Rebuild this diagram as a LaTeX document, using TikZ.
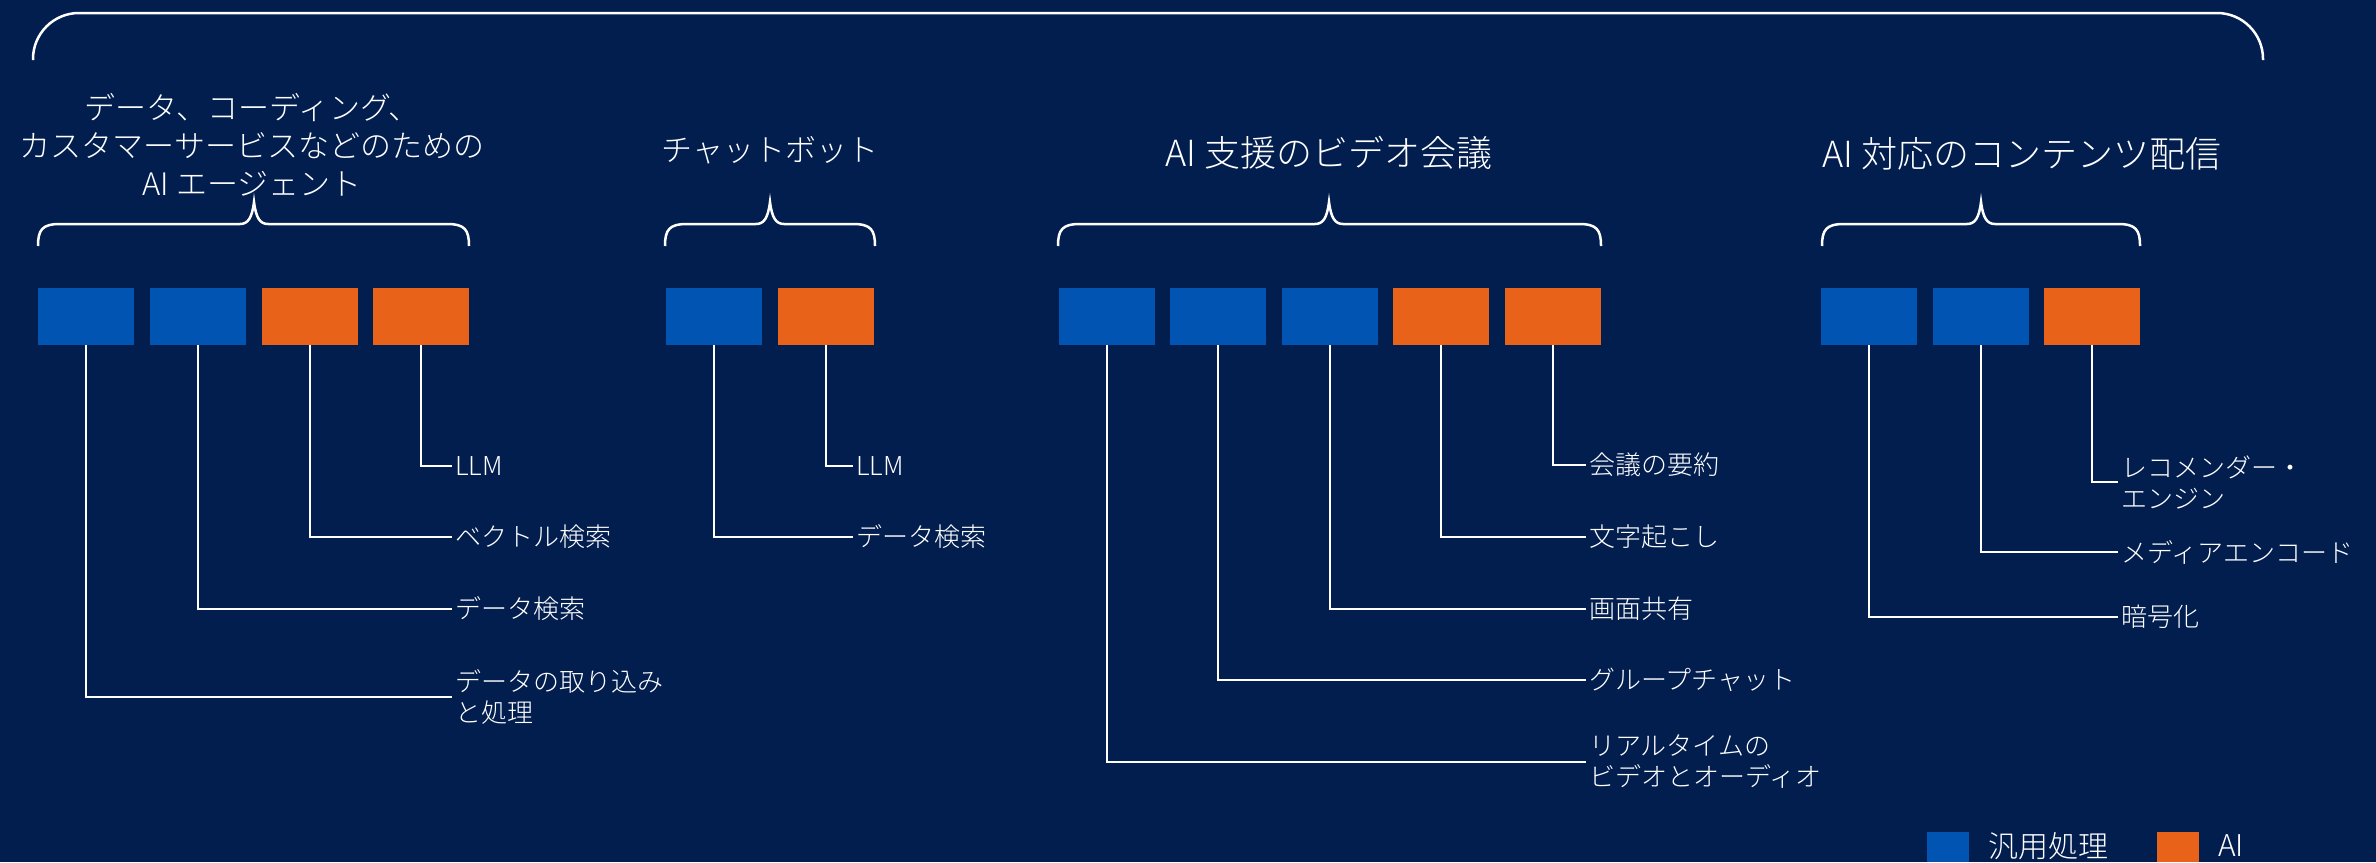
\documentclass[tikz,border=0pt]{standalone}
\usepackage{fontspec}
\IfFontExistsTF{Noto Sans CJK JP Light}{\setmainfont{Noto Sans CJK JP Light}}{\setmainfont{Noto Sans CJK JP}}
\definecolor{bg}{HTML}{021E4F}
\definecolor{bblue}{HTML}{0254B3}
\definecolor{borange}{HTML}{E86219}
\tikzset{
  boxb/.style={fill=bblue, minimum width=96pt, minimum height=57pt, inner sep=0pt},
  boxo/.style={boxb, fill=borange},
  conn/.style={draw=white, line width=2.5pt},
  lbl/.style={anchor=west, inner sep=0pt, inner xsep=3pt, text=white, font=\fontsize{26}{31}\selectfont, align=left},
  ttl/.style={text=white, inner sep=0pt, align=center},
  brc/.style={draw=white, line width=2.5pt},
  leg/.style={anchor=west, inner sep=0pt, text=white, font=\fontsize{30}{36}\selectfont},
}
\newcommand{\grpbrace}[3]{%
  \draw[brc] (#1,246) .. controls (#1,230) and (#1+4,224) .. (#1+22,224) -- (#2-14,224)
    .. controls (#2-6,224) and (#2-2,218) .. (#2,202)
    .. controls (#2+2,218) and (#2+6,224) .. (#2+14,224) -- (#3-22,224)
    .. controls (#3-4,224) and (#3,230) .. (#3,246);}
\begin{document}
\begin{tikzpicture}[x=1pt,y=-1pt]
\useasboundingbox (0,0) rectangle (2376,862);
\fill[bg] (0,0) rectangle (2376,862);

% top bracket
\draw[brc, rounded corners=46pt] (33,60) -- (33,13) -- (2263,13) -- (2263,60);

% titles
\node[ttl, font=\fontsize{31}{38}\selectfont] (t1) at (252,145) {データ、コーディング、\\カスタマーサービスなどのための\\AI エージェント};
\node[ttl, font=\fontsize{31}{38}\selectfont] (t2) at (770,150) {チャットボット};
\node[ttl, font=\fontsize{36}{42}\selectfont] (t3) at (1329,153) {AI 支援のビデオ会議};
\node[ttl, font=\fontsize{36}{42}\selectfont] (t4) at (2022,154) {AI 対応のコンテンツ配信};

% braces
\grpbrace{38}{254}{469}
\grpbrace{665}{770}{875}
\grpbrace{1058}{1329}{1601}
\grpbrace{1822}{1981}{2140}

% group 1
\node[boxb] (g1b1) at (86,316.5) {};
\node[boxb] (g1b2) at (198,316.5) {};
\node[boxo] (g1b3) at (310,316.5) {};
\node[boxo] (g1b4) at (421,316.5) {};
\node[lbl] (g1l4) at (452,466) {LLM};
\node[lbl] (g1l3) at (452,537) {ベクトル検索};
\node[lbl] (g1l2) at (452,609) {データ検索};
\node[lbl] (g1l1) at (452,697) {データの取り込み\\と処理};
\draw[conn] (g1b4.south) |- (g1l4.west);
\draw[conn] (g1b3.south) |- (g1l3.west);
\draw[conn] (g1b2.south) |- (g1l2.west);
\draw[conn] (g1b1.south) |- (g1l1.west);

% group 2
\node[boxb] (g2b1) at (714,316.5) {};
\node[boxo] (g2b2) at (826,316.5) {};
\node[lbl] (g2l2) at (853,466) {LLM};
\node[lbl] (g2l1) at (853,537) {データ検索};
\draw[conn] (g2b2.south) |- (g2l2.west);
\draw[conn] (g2b1.south) |- (g2l1.west);

% group 3
\node[boxb] (g3b1) at (1107,316.5) {};
\node[boxb] (g3b2) at (1218,316.5) {};
\node[boxb] (g3b3) at (1330,316.5) {};
\node[boxo] (g3b4) at (1441,316.5) {};
\node[boxo] (g3b5) at (1553,316.5) {};
\node[lbl] (g3l5) at (1586,465) {会議の要約};
\node[lbl] (g3l4) at (1586,537) {文字起こし};
\node[lbl] (g3l3) at (1586,609) {画面共有};
\node[lbl] (g3l2) at (1586,680) {グループチャット};
\node[lbl] (g3l1) at (1586,762) {リアルタイムの\\ビデオとオーディオ};
\draw[conn] (g3b5.south) |- (g3l5.west);
\draw[conn] (g3b4.south) |- (g3l4.west);
\draw[conn] (g3b3.south) |- (g3l3.west);
\draw[conn] (g3b2.south) |- (g3l2.west);
\draw[conn] (g3b1.south) |- (g3l1.west);

% group 4
\node[boxb] (g4b1) at (1869,316.5) {};
\node[boxb] (g4b2) at (1981,316.5) {};
\node[boxo] (g4b3) at (2092,316.5) {};
\node[lbl] (g4l3) at (2118,482) {レコメンダー・\\エンジン};
\node[lbl] (g4l2) at (2118,552) {メディアエンコード};
\node[lbl] (g4l1) at (2118,617) {暗号化};
\draw[conn] (g4b3.south) |- (g4l3.west);
\draw[conn] (g4b2.south) |- (g4l2.west);
\draw[conn] (g4b1.south) |- (g4l1.west);

% legend
\node[fill=bblue, inner sep=0pt, minimum width=42pt, minimum height=30pt] (lgb) at (1948,847) {};
\node[leg] (lgbt) at (1988,846) {汎用処理};
\node[fill=borange, inner sep=0pt, minimum width=42pt, minimum height=30pt] (lgo) at (2178,847) {};
\node[leg] (lgot) at (2218,846) {AI};
\end{tikzpicture}
\end{document}
